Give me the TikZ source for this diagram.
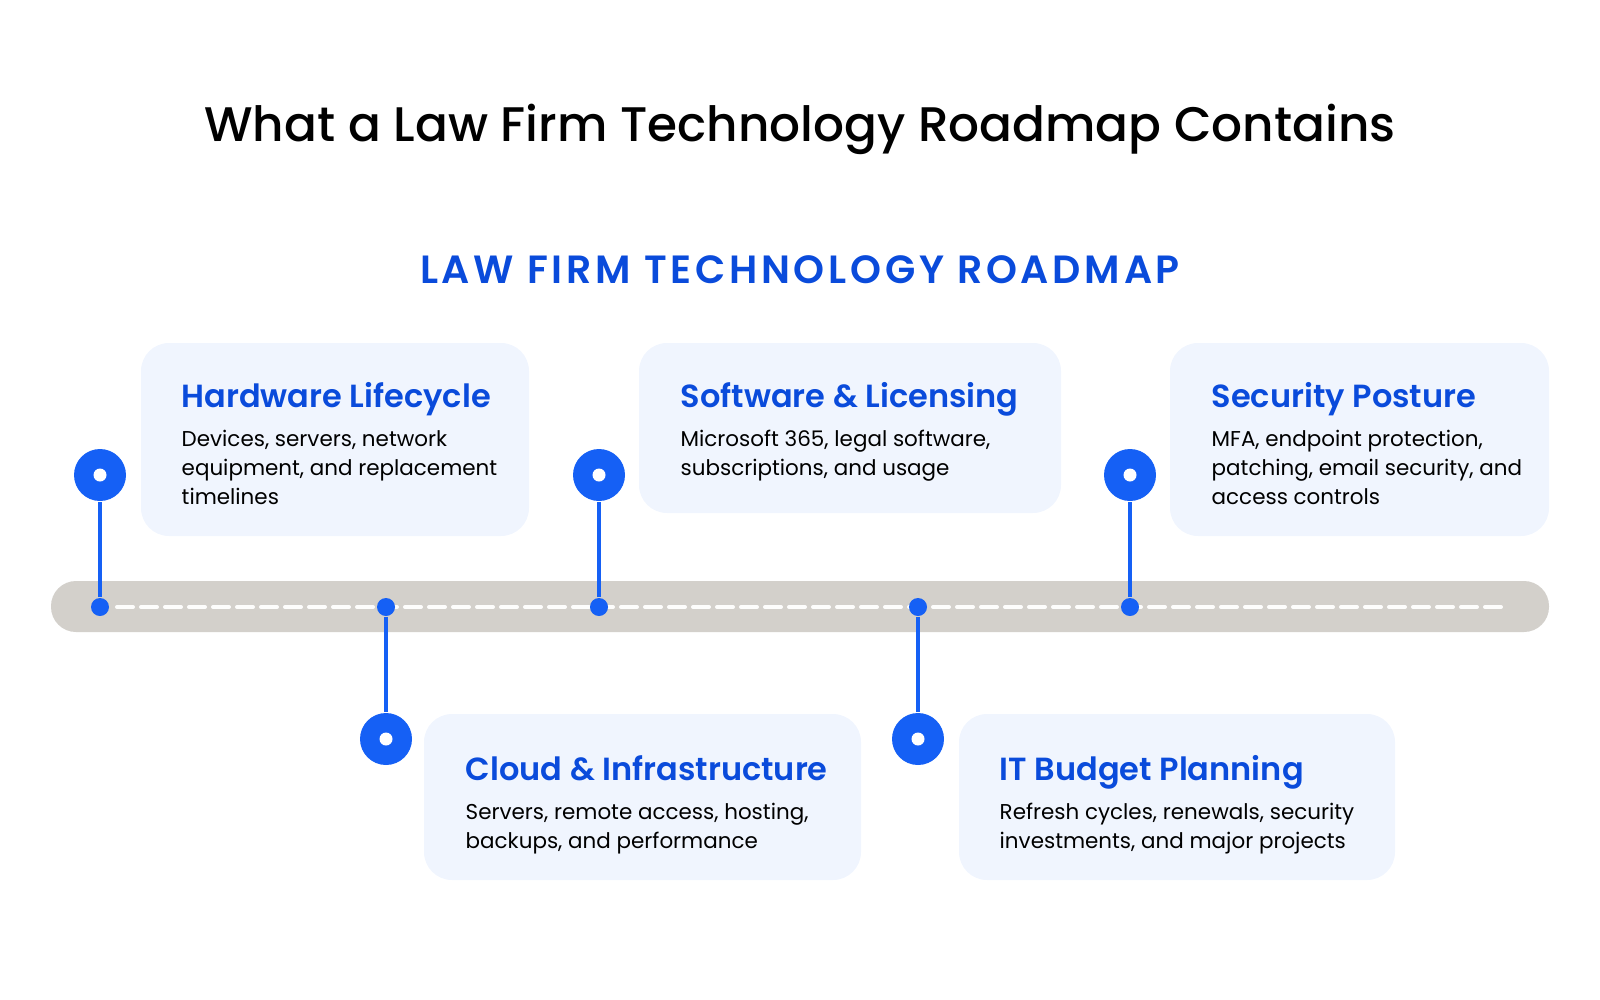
\documentclass[tikz,border=0pt]{standalone}
\usepackage{fontspec}
\setmainfont{Poppins}
\newfontfamily\semibold{Poppins}[UprightFont=*-SemiBold]
\newfontfamily\medium{Poppins}[UprightFont=*-Medium]
\newfontfamily\spaced{Poppins}[UprightFont=*-SemiBold, LetterSpace=9.5]
\usepackage{tikz}
\usetikzlibrary{positioning}
\usetikzlibrary{calc}
\definecolor{headblue}{HTML}{0A4BDB}
\definecolor{pinblue}{HTML}{1560F5}
\definecolor{boxfill}{HTML}{F0F5FE}
\definecolor{roadgray}{HTML}{D3D0CB}
\tikzstyle{card} = [fill=boxfill, rounded corners=28*0.01cm]
\tikzstyle{heading} = [anchor=base west, inner sep=0pt, text=headblue, font=\fontsize{9.1}{11}\selectfont\semibold]
\tikzstyle{body} = [anchor=north west, inner sep=0pt, align=left, font=\fontsize{6.1}{8.25}\selectfont]
\tikzstyle{pin} = [circle, fill=pinblue, minimum size=52*0.01cm, inner sep=0pt]
\tikzstyle{hole} = [circle, fill=white, minimum size=13*0.01cm, inner sep=0pt]
\tikzstyle{dot} = [circle, fill=pinblue, minimum size=18*0.01cm, inner sep=0pt]
\tikzstyle{stem} = [draw=pinblue, line width=4*0.01cm]
\begin{document}
\begin{tikzpicture}[x=0.01cm, y=-0.01cm]
		\useasboundingbox (0,0) rectangle (1600,1000);
		\node [name=title, font=\fontsize{13.8}{16}\selectfont\medium] at (800,129) {What a Law Firm Technology Roadmap Contains};
		\node [name=subtitle, text=headblue, font=\fontsize{11.2}{14}\selectfont\spaced] at (800,270) {LAW FIRM TECHNOLOGY ROADMAP};
		
		% road
		\fill [roadgray, rounded corners=25*0.01cm] (51,581) rectangle (1549,632);
		\draw [white!95!roadgray, line width=4*0.01cm, dash pattern=on 16*0.01cm off 8*0.01cm, line cap=round] (117,607) -- (1502,607);
		
		% cards
		\fill [card] (141,343) rectangle (529,536);
		\fill [card] (639,343) rectangle (1061,513);
		\fill [card] (1170,343) rectangle (1549,536);
		\fill [card] (424,714) rectangle (861,880);
		\fill [card] (959,714) rectangle (1395,880);
		
		\node [heading, name=hw] at (181,407) {Hardware Lifecycle};
		\node [body, name=hwtext] at (181,429) {Devices, servers, network\\equipment, and replacement\\timelines};
		\node [heading, name=sw] at (680,407) {Software \& Licensing};
		\node [body, name=swtext] at (680,429) {Microsoft 365, legal software,\\subscriptions, and usage};
		\node [heading, name=sec] at (1211,407) {Security Posture};
		\node [body, name=sectext] at (1211,429) {MFA, endpoint protection,\\patching, email security, and\\access controls};
		\node [heading, name=cloud] at (465,780) {Cloud \& Infrastructure};
		\node [body, name=cloudtext] at (465,802) {Servers, remote access, hosting,\\backups, and performance};
		\node [heading, name=it] at (999,780) {IT Budget Planning};
		\node [body, name=ittext] at (999,802) {Refresh cycles, renewals, security\\investments, and major projects};
		
		% pins
		\foreach \px/\py/\nm in {100/475/a, 386/739/b, 599/475/c, 918/739/d, 1130/475/e} {
			\node [dot, name=dot\nm] at (\px,607) {};
			\node [pin, name=pin\nm] at (\px,\py) {};
			\draw [stem] (dot\nm) -- (pin\nm);
			\node [hole] at (pin\nm) {};
		}
	\end{tikzpicture}
\end{document}
